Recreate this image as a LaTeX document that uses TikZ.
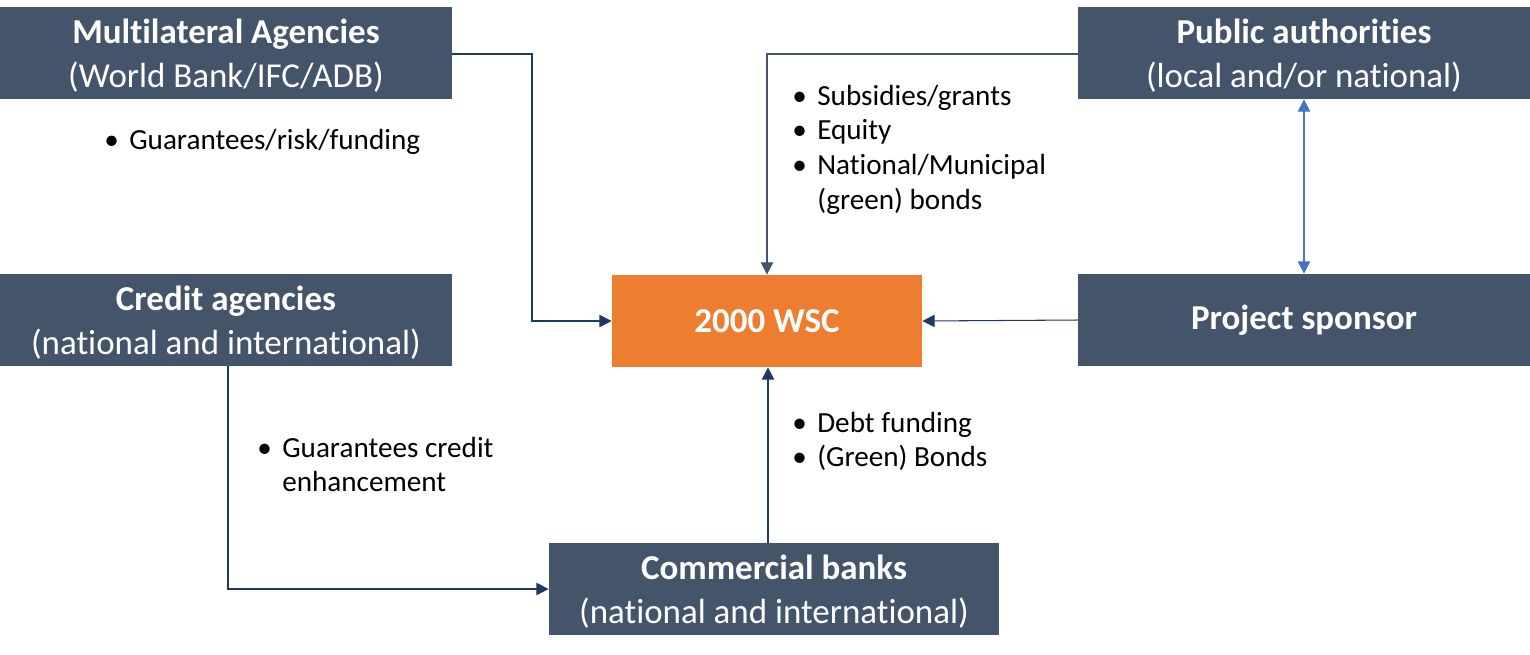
\documentclass[tikz,border=0pt]{standalone}
\usepackage{fontspec}
\setmainfont[Ligatures={NoCommon}]{Carlito}
\usetikzlibrary{arrows.meta}
\definecolor{slate}{HTML}{44546A}
\definecolor{orng}{HTML}{ED7D31}
\definecolor{navy}{HTML}{1F3864}
\definecolor{lblue}{HTML}{4472C4}
\tikzset{
  box/.style={draw=none, fill=slate, text=white, inner sep=0pt, align=center,
    font=\fontsize{19.9}{25}\selectfont},
  hub/.style={draw=none, fill=orng, text=white, inner sep=0pt, align=center,
    font=\fontsize{19.9}{25}\selectfont\bfseries},
  conn/.style={draw=navy, line width=0.6pt, -{Triangle[length=7pt,width=7pt]}},
  list/.style={inner sep=0pt, anchor=base west, font=\fontsize{16.6}{19.8}\selectfont},
}
\newcommand{\bul}{\makebox[14.2pt][l]{•}}
\begin{document}
\begin{tikzpicture}[x=0.02cm, y=-0.02cm]
\useasboundingbox (0,0) rectangle (1530,654);
% boxes
\node[box, minimum width=452*0.02cm, minimum height=92*0.02cm] (multi) at (226,53) {};
\node[box, minimum width=452*0.02cm, minimum height=92*0.02cm] (pub) at (1304,53) {};
\node[box, minimum width=452*0.02cm, minimum height=92*0.02cm] (cred) at (226,320) {};
\node[box, minimum width=452*0.02cm, minimum height=92*0.02cm] (spon) at (1304,320) {\textbf{Project sponsor}};
\node[hub, minimum width=310*0.02cm, minimum height=92*0.02cm] (wsc) at (767,321) {2000 WSC};
\node[box, minimum width=450*0.02cm, minimum height=92*0.02cm] (bank) at (774,589) {};
\node[box, fill=none] (multit) at ([yshift=-3*0.02cm]multi.center) {\textbf{Multilateral Agencies}\\(World Bank/IFC/ADB)};
\node[box, fill=none] (pubt) at ([yshift=-3*0.02cm]pub.center) {\textbf{Public authorities}\\(local and/or national)};
\node[box, fill=none] (credt) at ([yshift=-3*0.02cm]cred.center) {\textbf{Credit agencies}\\(national and international)};
\node[box, fill=none] (bankt) at ([yshift=-3*0.02cm]bank.center) {\textbf{Commercial banks}\\(national and international)};
% connectors
\coordinate (m1) at (532,54);
\draw[conn] (multi.east |- m1) -- (m1) |- (wsc.west);
\coordinate (p1) at (767,54);
\draw[conn, draw=slate] (pub.west |- p1) -- (p1) -- (wsc.north -| p1);
\draw[draw=lblue, line width=0.6pt, {Triangle[length=7pt,width=7pt]}-{Triangle[length=7pt,width=7pt]}] (pub.south) -- (spon.north);
\draw[conn] (spon.west) -- (wsc.east);
\coordinate (c1) at (228,589);
\draw[conn] (cred.south -| c1) -- (c1) -- (bank.west |- c1);
\coordinate (b1) at (768,543);
\draw[conn] (b1) -- (wsc.south -| b1);
% bullet texts
\node[list] (l1) at (104,149) {\begin{tabular}[t]{@{}l@{}}\bul Guarantees/risk/funding\end{tabular}};
\node[list] (l2) at (792,105) {\begin{tabular}[t]{@{}l@{}}\bul Subsidies/grants\\ \bul Equity\\ \bul National/Municipal\\ \hspace{14.2pt}(green) bonds\end{tabular}};
\node[list] (l3) at (257,457) {\begin{tabular}[t]{@{}l@{}}\bul Guarantees credit\\ \hspace{14.2pt}enhancement\end{tabular}};
\node[list] (l4) at (792,432) {\begin{tabular}[t]{@{}l@{}}\bul Debt funding\\ \bul (Green) Bonds\end{tabular}};
\end{tikzpicture}
\end{document}
